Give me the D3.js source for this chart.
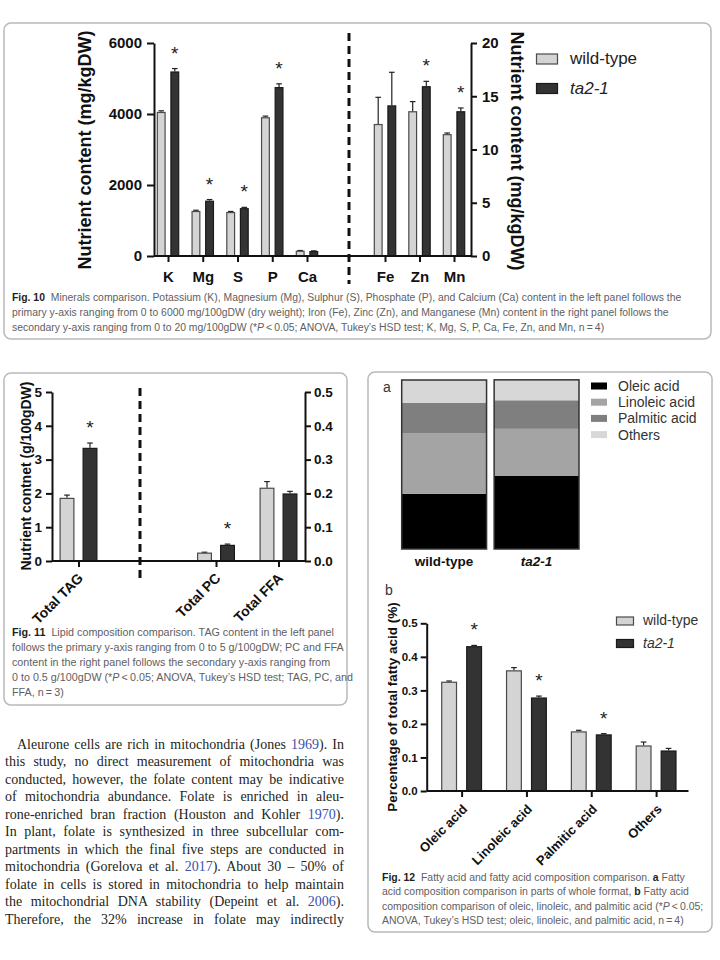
<!DOCTYPE html>
<html><head><meta charset="utf-8">
<script src="https://cdn.jsdelivr.net/npm/d3@7"></script>
<style>
html,body{margin:0;padding:0;background:#fff;}
svg{display:block;}
</style></head><body>
<svg id="page" width="720" height="960"></svg>
<script>
// ---------------- DATA ----------------
const genotypes = ['wild-type', 'ta2-1'];

// Fig. 10 minerals
const mineralsLeft = ['K', 'Mg', 'S', 'P', 'Ca'];
const mineralsLeftWT = [4060, 1270, 1240, 3910, 150];
const mineralsLeftWTErr = [30, 20, 15, 30, 5];
const mineralsLeftTA = [5200, 1560, 1350, 4760, 140];
const mineralsLeftTAErr = [80, 30, 20, 90, 5];
const mineralsLeftSig = [true, true, true, true, false];
const mineralsLeftTicks = [0, 2000, 4000, 6000];

const mineralsRight = ['Fe', 'Zn', 'Mn'];
const mineralsRightWT = [12.4, 13.6, 11.45];
const mineralsRightWTErr = [2.5, 0.9, 0.1];
const mineralsRightTA = [14.15, 15.95, 13.6];
const mineralsRightTAErr = [3.1, 0.45, 0.3];
const mineralsRightSig = [false, true, true];
const mineralsRightTicks = [0, 5, 10, 15, 20];

// Fig. 11 lipids
const lipidLeft = ['Total TAG'];
const lipidLeftWT = [1.87];
const lipidLeftWTErr = [0.08];
const lipidLeftTA = [3.35];
const lipidLeftTAErr = [0.14];
const lipidLeftSig = [true];
const lipidLeftTicks = [0, 1, 2, 3, 4, 5];

const lipidRight = ['Total PC', 'Total FFA'];
const lipidRightWT = [0.025, 0.217];
const lipidRightWTErr = [0.001, 0.018];
const lipidRightTA = [0.048, 0.200];
const lipidRightTAErr = [0.002, 0.006];
const lipidRightSig = [true, false];
const lipidRightTicks = [0, 0.1, 0.2, 0.3, 0.4, 0.5];

// Fig. 12 fatty acids
const fattyAcids = ['Oleic acid', 'Linoleic acid', 'Palmitic acid', 'Others'];
const faWT = [0.326, 0.360, 0.178, 0.136];
const faWTErr = [0.002, 0.008, 0.003, 0.010];
const faTA = [0.432, 0.279, 0.169, 0.121];
const faTAErr = [0.002, 0.004, 0.002, 0.006];
const faSig = [true, true, true, false];
const faTicks = [0, 0.1, 0.2, 0.3, 0.4, 0.5];

// Captions / body text
const fig10Caption = [
  [['Fig. 10', 'b'], ['  Minerals comparison. Potassium (K), Magnesium (Mg), Sulphur (S), Phosphate (P), and Calcium (Ca) content in the left panel follows the']],
  [['primary y-axis ranging from 0 to 6000 mg/100gDW (dry weight); Iron (Fe), Zinc (Zn), and Manganese (Mn) content in the right panel follows the']],
  [['secondary y-axis ranging from 0 to 20 mg/100gDW (*'], ['P', 'i'], ['\u2009<\u20090.05; ANOVA, Tukey\u2019s HSD test; K, Mg, S, P, Ca, Fe, Zn, and Mn, n\u2009=\u20094)']]
];
const fig11Caption = [
  [['Fig. 11', 'b'], ['  Lipid composition comparison. TAG content in the left panel']],
  [['follows the primary y-axis ranging from 0 to 5 g/100gDW; PC and FFA']],
  [['content in the right panel follows the secondary y-axis ranging from']],
  [['0 to 0.5 g/100gDW (*'], ['P', 'i'], ['\u2009<\u20090.05; ANOVA, Tukey\u2019s HSD test; TAG, PC, and']],
  [['FFA, n\u2009=\u20093)']]
];
const fig12Caption = [
  [['Fig. 12', 'b'], ['  Fatty acid and fatty acid composition comparison. '], ['a', 'b'], [' Fatty']],
  [['acid composition comparison in parts of whole format, '], ['b', 'b'], [' Fatty acid']],
  [['composition comparison of oleic, linoleic, and palmitic acid (*'], ['P', 'i'], ['\u2009<\u20090.05;']],
  [['ANOVA, Tukey\u2019s HSD test; oleic, linoleic, and palmitic acid, n\u2009=\u20094)']]
];
const bodyLines = [
  [['Aleurone cells are rich in mitochondria (Jones '], ['1969', 'l'], ['). In']],
  [['this study, no direct measurement of mitochondria was']],
  [['conducted, however, the folate content may be indicative']],
  [['of mitochondria abundance. Folate is enriched in aleu-']],
  [['rone-enriched bran fraction (Houston and Kohler '], ['1970', 'l'], [').']],
  [['In plant, folate is synthesized in three subcellular com-']],
  [['partments in which the final five steps are conducted in']],
  [['mitochondria (Gorelova et al. '], ['2017', 'l'], ['). About 30 \u2013 50% of']],
  [['folate in cells is stored in mitochondria to help maintain']],
  [['the mitochondrial DNA stability (Depeint et al. '], ['2006', 'l'], [').']],
  [['Therefore, the 32% increase in folate may indirectly']]
];

// ---------------- STYLE ----------------
const SANS = "'Liberation Sans', Arial, Helvetica, sans-serif";
const SERIF = "'Liberation Serif', 'Times New Roman', serif";
const WT_FILL = '#d4d4d4', WT_STROKE = '#4a4a4a';
const TA_FILL = '#333333', TA_STROKE = '#1a1a1a';
const INK = '#111';
const svg = d3.select('#page');

function box(x, y, w, h) {
  svg.append('rect').attr('x', x).attr('y', y).attr('width', w).attr('height', h)
    .attr('rx', 7).attr('fill', 'none').attr('stroke', '#b9b9b9').attr('stroke-width', 1.5);
}
box(4, 23, 707, 316);
box(4, 373, 343, 332);
box(368, 372, 344, 560);

function styleAxis(sel, size) {
  sel.attr('font-family', SANS).attr('font-size', size).attr('font-weight', 'bold');
  sel.select('.domain').attr('stroke', INK).attr('stroke-width', 2);
  sel.selectAll('.tick line').attr('stroke', INK).attr('stroke-width', 2);
  sel.selectAll('.tick text').attr('fill', INK);
}

function drawBars(g, cats, xp, sub, y, wt, wtE, ta, taE, sig) {
  const series = [
    {key: 'wild-type', v: wt, e: wtE, fill: WT_FILL, stroke: WT_STROKE},
    {key: 'ta2-1', v: ta, e: taE, fill: TA_FILL, stroke: TA_STROKE}
  ];
  const w = sub.bandwidth();
  series.forEach(s => {
    cats.forEach((c, i) => {
      const x0 = xp(c) + sub(s.key);
      const cx = x0 + w / 2;
      const et = y(s.v[i] + s.e[i]);
      g.append('line').attr('x1', cx).attr('x2', cx).attr('y1', y(s.v[i])).attr('y2', et)
        .attr('stroke', '#222').attr('stroke-width', 1.2);
      g.append('line').attr('x1', cx - 2.8).attr('x2', cx + 2.8).attr('y1', et).attr('y2', et)
        .attr('stroke', '#222').attr('stroke-width', 1.2);
      g.append('rect').attr('x', x0 + 0.6).attr('y', y(s.v[i]) + 0.6)
        .attr('width', w - 1.2).attr('height', Math.max(0, y(0) - y(s.v[i]) - 0.6))
        .attr('fill', s.fill).attr('stroke', s.stroke).attr('stroke-width', 1.2);
    });
  });
  cats.forEach((c, i) => {
    if (!sig[i]) return;
    const cx = xp(c) + sub('ta2-1') + w / 2;
    g.append('text').attr('x', cx).attr('y', y(ta[i] + taE[i]) - 9)
      .attr('text-anchor', 'middle').attr('font-family', SANS).attr('font-size', 19)
      .attr('fill', '#222').text('*');
  });
}

function dashedLine(x, y1, y2) {
  svg.append('line').attr('x1', x).attr('x2', x).attr('y1', y1).attr('y2', y2)
    .attr('stroke', INK).attr('stroke-width', 3).attr('stroke-dasharray', '8,5');
}

// ---------------- FIG 10 ----------------
{
  const g = svg.append('g');
  const yL = d3.scaleLinear().domain([0, 6000]).range([256, 43]);
  const yR = d3.scaleLinear().domain([0, 20]).range([256, 43]);
  const xL = d3.scalePoint().domain(mineralsLeft).range([168, 307]);
  const xR = d3.scalePoint().domain(mineralsRight).range([385, 454]);
  const sub = d3.scaleBand().domain(genotypes).range([-11.3, 11.3]).paddingInner(0.34);

  dashedLine(349, 33, 284);
  drawBars(g, mineralsLeft, xL, sub, yL, mineralsLeftWT, mineralsLeftWTErr, mineralsLeftTA, mineralsLeftTAErr, mineralsLeftSig);
  drawBars(g, mineralsRight, xR, sub, yR, mineralsRightWT, mineralsRightWTErr, mineralsRightTA, mineralsRightTAErr, mineralsRightSig);

  g.append('line').attr('x1', 154).attr('x2', 471).attr('y1', 256).attr('y2', 256).attr('stroke', INK).attr('stroke-width', 2);
  const aL = g.append('g').attr('transform', 'translate(154,0)')
    .call(d3.axisLeft(yL).tickValues(mineralsLeftTicks).tickSize(7).tickSizeOuter(0).tickPadding(5).tickFormat(d3.format('d')));
  styleAxis(aL, 15);
  const aR = g.append('g').attr('transform', 'translate(471,0)')
    .call(d3.axisRight(yR).tickValues(mineralsRightTicks).tickSize(6).tickSizeOuter(0).tickPadding(5).tickFormat(d3.format('d')));
  styleAxis(aR, 15);
  [xL, xR].forEach(xs => {
    const ax = g.append('g').attr('transform', 'translate(0,256)')
      .call(d3.axisBottom(xs).tickSize(6).tickSizeOuter(0).tickPadding(9));
    styleAxis(ax, 15);
    ax.select('.domain').remove();
  });
  g.append('text').attr('transform', 'translate(91,150) rotate(-90)').attr('text-anchor', 'middle')
    .attr('font-family', SANS).attr('font-weight', 'bold').attr('font-size', 18).attr('fill', INK)
    .text('Nutrient content (mg/kgDW)');
  g.append('text').attr('transform', 'translate(511,151) rotate(90)').attr('text-anchor', 'middle')
    .attr('font-family', SANS).attr('font-weight', 'bold').attr('font-size', 18).attr('fill', INK)
    .text('Nutrient content (mg/kgDW)');
  const leg = [{k: 'wild-type', f: WT_FILL, s: WT_STROKE, y: 54}, {k: 'ta2-1', f: TA_FILL, s: TA_STROKE, y: 83.5}];
  leg.forEach(d => {
    g.append('rect').attr('x', 536.5).attr('y', d.y).attr('width', 21).attr('height', 10)
      .attr('fill', d.f).attr('stroke', d.s).attr('stroke-width', 1.2);
    g.append('text').attr('x', 570).attr('y', d.y + 10).attr('font-family', SANS).attr('font-size', 17)
      .attr('fill', '#222').attr('font-style', d.k === 'ta2-1' ? 'italic' : 'normal').text(d.k);
  });
}

// ---------------- FIG 11 ----------------
{
  const g = svg.append('g');
  const yL = d3.scaleLinear().domain([0, 5]).range([561, 392]);
  const yR = d3.scaleLinear().domain([0, 0.5]).range([561, 392]);
  const xL = d3.scalePoint().domain(lipidLeft).range([78.5, 78.5]);
  const xR = d3.scalePoint().domain(lipidRight).range([216, 278.5]);
  const sub = d3.scaleBand().domain(genotypes).range([-19, 19]).paddingInner(0.348);

  dashedLine(140, 388, 583);
  drawBars(g, lipidLeft, xL, sub, yL, lipidLeftWT, lipidLeftWTErr, lipidLeftTA, lipidLeftTAErr, lipidLeftSig);
  drawBars(g, lipidRight, xR, sub, yR, lipidRightWT, lipidRightWTErr, lipidRightTA, lipidRightTAErr, lipidRightSig);
  g.append('line').attr('x1', 52).attr('x2', 305).attr('y1', 561).attr('y2', 561).attr('stroke', INK).attr('stroke-width', 2);
  const aL = g.append('g').attr('transform', 'translate(52,0)')
    .call(d3.axisLeft(yL).tickValues(lipidLeftTicks).tickSize(6).tickSizeOuter(0).tickPadding(4).tickFormat(d3.format('d')));
  styleAxis(aL, 13.5);
  const aR = g.append('g').attr('transform', 'translate(305,0)')
    .call(d3.axisRight(yR).tickValues(lipidRightTicks).tickSize(6).tickSizeOuter(0).tickPadding(3).tickFormat(d3.format('.1f')));
  styleAxis(aR, 13.5);
  [xL, xR].forEach(xs => {
    const ax = g.append('g').attr('transform', 'translate(0,561)')
      .call(d3.axisBottom(xs).tickSize(6).tickSizeOuter(0));
    styleAxis(ax, 14);
    ax.select('.domain').remove();
    ax.selectAll('.tick text').attr('text-anchor', 'end').attr('dy', null)
      .attr('transform', 'translate(5,18) rotate(-45)').attr('y', 0).attr('x', 0);
  });
  g.append('text').attr('transform', 'translate(31,476) rotate(-90)').attr('text-anchor', 'middle')
    .attr('font-family', SANS).attr('font-weight', 'bold').attr('font-size', 14).attr('fill', INK)
    .text('Nutrient contnet (g/100gDW)');
}

// ---------------- FIG 12a ----------------
{
  const g = svg.append('g');
  const rows = genotypes.map((gt, j) => {
    const r = {genotype: gt};
    fattyAcids.forEach((fa, i) => { r[fa] = (j === 0 ? faWT : faTA)[i]; });
    return r;
  });
  const stack = d3.stack().keys(fattyAcids)(rows);
  const y = d3.scaleLinear().domain([0, 1]).range([549, 380]);
  const x = d3.scaleBand().domain(genotypes).range([401.7, 579]).paddingInner(0.082);
  const color = d3.scaleOrdinal().domain(fattyAcids).range(['#000000', '#a4a4a4', '#7f7f7f', '#d7d7d7']);
  stack.forEach(layer => {
    g.selectAll(null).data(layer).join('rect')
      .attr('x', d => x(d.data.genotype)).attr('width', x.bandwidth())
      .attr('y', d => y(d[1])).attr('height', d => y(d[0]) - y(d[1]))
      .attr('fill', color(layer.key));
  });
  const top = stack[stack.length - 1];
  g.selectAll(null).data(top).join('rect')
    .attr('x', d => x(d.data.genotype)).attr('width', x.bandwidth())
    .attr('y', d => y(d[1])).attr('height', d => y(0) - y(d[1]))
    .attr('fill', 'none').attr('stroke', '#333').attr('stroke-width', 1.5);
  g.selectAll(null).data(genotypes).join('text')
    .attr('x', d => x(d) + x.bandwidth() / 2).attr('y', 566).attr('text-anchor', 'middle')
    .attr('font-family', SANS).attr('font-weight', 'bold').attr('font-size', 13.5).attr('fill', INK)
    .attr('font-style', d => d === 'ta2-1' ? 'italic' : 'normal').text(d => d);
  g.append('text').attr('x', 383).attr('y', 392).attr('font-family', SANS).attr('font-size', 14).attr('fill', '#333').text('a');
  fattyAcids.forEach((fa, i) => {
    const by = 391 + i * 16.2;
    g.append('rect').attr('x', 591).attr('y', by - 8.5).attr('width', 16).attr('height', 7).attr('fill', color(fa));
    g.append('text').attr('x', 618).attr('y', by).attr('font-family', SANS).attr('font-size', 14)
      .attr('fill', '#333').text(fa);
  });
}

// ---------------- FIG 12b ----------------
{
  const g = svg.append('g');
  const y = d3.scaleLinear().domain([0, 0.5]).range([791, 623.3]);
  const x = d3.scaleBand().domain(fattyAcids).range([429.2, 688.5]);
  const xc = d3.scalePoint().domain(fattyAcids).range([x('Oleic acid') + x.bandwidth() / 2, x('Others') + x.bandwidth() / 2]);
  const sub = d3.scaleBand().domain(genotypes).range([-20.5, 20.5]).paddingInner(0.36);
  drawBars(g, fattyAcids, xc, sub, y, faWT, faWTErr, faTA, faTAErr, faSig);
  g.append('line').attr('x1', 426.7).attr('x2', 688.5).attr('y1', 791).attr('y2', 791).attr('stroke', INK).attr('stroke-width', 2);
  const aL = g.append('g').attr('transform', 'translate(426.7,0)')
    .call(d3.axisLeft(y).tickValues(faTicks).tickSize(6).tickSizeOuter(0).tickPadding(3).tickFormat(d3.format('.1f')));
  styleAxis(aL, 11.5);
  const ax = g.append('g').attr('transform', 'translate(0,791)')
    .call(d3.axisBottom(xc).tickSize(6).tickSizeOuter(0));
  styleAxis(ax, 13);
  ax.select('.domain').remove();
  ax.selectAll('.tick text').attr('text-anchor', 'end').attr('dy', null)
    .attr('transform', 'translate(6,19) rotate(-45)').attr('y', 0).attr('x', 0);
  g.append('text').attr('transform', 'translate(397,707) rotate(-90)').attr('text-anchor', 'middle')
    .attr('font-family', SANS).attr('font-weight', 'bold').attr('font-size', 13.5).attr('fill', INK)
    .text('Percentage of total fatty acid (%)');
  g.append('text').attr('x', 385).attr('y', 595).attr('font-family', SANS).attr('font-size', 14).attr('fill', '#333').text('b');
  const leg = [{k: 'wild-type', f: WT_FILL, s: WT_STROKE, y: 617}, {k: 'ta2-1', f: TA_FILL, s: TA_STROKE, y: 639.5}];
  leg.forEach(d => {
    g.append('rect').attr('x', 616.5).attr('y', d.y).attr('width', 17).attr('height', 8)
      .attr('fill', d.f).attr('stroke', d.s).attr('stroke-width', 1.2);
    g.append('text').attr('x', 643).attr('y', d.y + 8).attr('font-family', SANS).attr('font-size', 14)
      .attr('fill', '#333').attr('font-style', d.k === 'ta2-1' ? 'italic' : 'normal').text(d.k);
  });
}

// ---------------- TEXT ----------------
function addLine(parent, segs, font, size, color, link) {
  const t = parent.append('text').attr('x', 0).attr('y', 0).attr('font-family', font)
    .attr('font-size', size).attr('fill', color).style('white-space', 'pre');
  segs.forEach(([s, st]) => {
    const ts = t.append('tspan').text(s);
    if (st === 'b') ts.attr('font-weight', 'bold').attr('fill', '#231f20');
    if (st === 'i') ts.attr('font-style', 'italic');
    if (st === 'l') ts.attr('fill', link);
  });
  return t;
}
function caption(lines, x, y0, dy, w1) {
  const gs = lines.map((segs, i) => {
    const g = svg.append('g').attr('transform', `translate(${x},${y0 + i * dy})`);
    addLine(g, segs, SANS, 10.8, '#606062', null);
    return g;
  });
  const k = w1 / gs[0].select('text').node().getComputedTextLength();
  gs.forEach((g, i) => g.attr('transform', `translate(${x},${y0 + i * dy}) scale(${k},1)`));
}
caption(fig10Caption, 12, 300.5, 15, 670);
caption(fig11Caption, 12, 635.5, 15, 322);
caption(fig12Caption, 382, 880.5, 14.6, 303);

bodyLines.forEach((segs, i) => {
  const x0 = i === 0 ? 17 : 5;
  const yb = 748.5 + i * 17.55;
  const w = 344 - x0;
  const g = svg.append('g').attr('transform', `translate(${x0},${yb})`);
  const t = addLine(g, segs, SERIF, 14, '#231f20', '#3a4fae');
  const L = t.node().getComputedTextLength();
  if (L > w) {
    g.attr('transform', `translate(${x0},${yb}) scale(${w / L},1)`);
  } else {
    const n = (t.node().textContent.match(/ /g) || []).length;
    if (n) t.attr('word-spacing', ((w - L) / n) + 'px');
  }
});
</script></body></html>
